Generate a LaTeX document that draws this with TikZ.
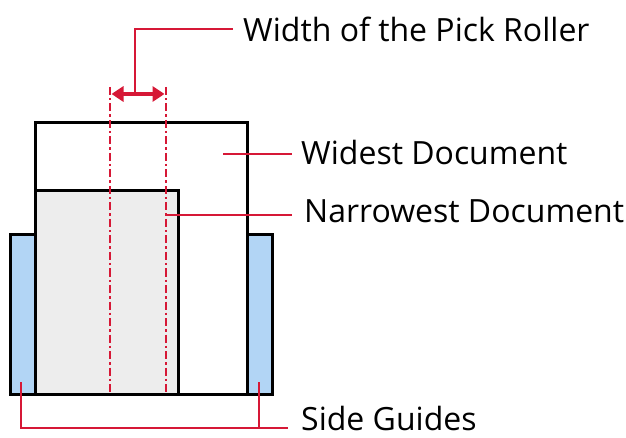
\documentclass[tikz,border=0pt]{standalone}
\usepackage{fontspec}
\setmainfont{Open Sans}
\usetikzlibrary{arrows.meta}
\definecolor{myred}{RGB}{214,24,54}
\definecolor{guideblue}{RGB}{178,213,245}
\definecolor{docgray}{RGB}{237,237,237}
\begin{document}
\begin{tikzpicture}[x=1pt,y=-1pt,
  doc/.style={draw=black,line width=3pt},
  redline/.style={draw=myred,line width=2.8pt},
  rollerline/.style={draw=myred,line width=2.8pt,dash pattern=on 8pt off 3pt on 2.5pt off 3pt},
  lbl/.style={anchor=west,inner sep=0pt,font=\fontsize{32}{38}\selectfont}]
\useasboundingbox (0,0) rectangle (626,438);
% documents
\draw[doc,fill=white] (35,123) rectangle (247,394);
\draw[doc,fill=docgray] (35,191) rectangle (178,394);
% side guides
\draw[doc,fill=guideblue] (10,235) rectangle (35,394);
\draw[doc,fill=guideblue] (247,235) rectangle (272,394);
\draw[doc] (35,394) -- (247,394);
% roller lines
\coordinate (r1t) at (110,87); \coordinate (r1b) at (110,394);
\coordinate (r2t) at (166,87); \coordinate (r2b) at (166,394);
\draw[rollerline] (r1t) -- (r1b);
\draw[rollerline] (r2t) -- (r2b);
\coordinate (a1) at (111.5,94); \coordinate (a2) at (164.5,94);
\draw[redline,line width=4pt,{Triangle[length=12pt,width=15pt]}-{Triangle[length=12pt,width=15pt]}] (a1) -- (a2);
% labels
\node[lbl] (width) at (243,29) {Width of the Pick Roller};
\node[lbl] (widest) at (301,153) {Widest Document};
\node[lbl] (narrow) at (304,211) {Narrowest Document};
\node[lbl] (side) at (301,418) {Side Guides};
% leaders
\coordinate (wa) at (135,94);
\draw[redline] (wa) |- (233,29);
\coordinate (wd) at (223,154);
\draw[redline] (wd) -- (292,154);
\coordinate (nd) at (166,215);
\draw[redline] (nd) -- (292,215);
\coordinate (sg1) at (21,382); \coordinate (sg2) at (259,382);
\draw[redline] (sg1) |- (288,428);
\draw[redline] (sg2) -- (259,428);
\end{tikzpicture}
\end{document}
